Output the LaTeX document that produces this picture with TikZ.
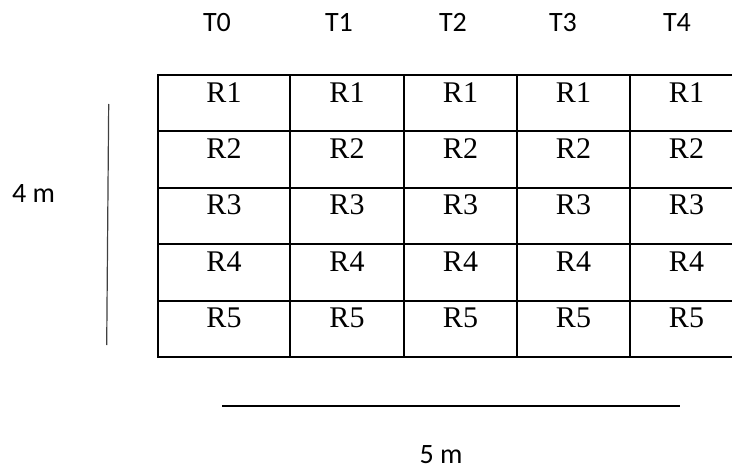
\documentclass[tikz,border=0pt]{standalone}
\usepackage{fontspec}
\setmainfont{Liberation Serif}
\newfontfamily\calib{Carlito}
\begin{document}
\begin{tikzpicture}[x=1pt,y=-1pt,
  cellbox/.style={draw=black, line width=2pt, line cap=rect, anchor=north west, inner sep=0pt, minimum height=56.4pt},
  celltext/.style={font=\fontsize{30}{34}\selectfont, anchor=base, inner sep=0pt},
  lab/.style={font=\calib\fontsize{28}{32}\selectfont, anchor=base, inner sep=0pt},
  scaleline/.style={line width=1.2pt}]
\clip (0,0) rectangle (732,471);
\fill[white] (0,0) rectangle (732,471);
% column lefts and widths
\foreach \c/\x/\w in {0/157/132,1/289/114,2/403/113,3/516/113,4/629/113}{
  \foreach \r in {1,...,5}{
    \node[cellbox, minimum width=\w pt] (c-\r-\c) at (\x,{74+(\r-1)*56.4}) {};
    \node[celltext] (t-\r-\c) at ([yshift=-28pt]c-\r-\c.north) {R\r};
  }
}
% column headings
\node[lab] (h0) at (217,31) {T0};
\node[lab] (h1) at (339,31) {T1};
\node[lab] (h2) at (453,31) {T2};
\node[lab] (h3) at (563,31) {T3};
\node[lab] (h4) at (677,31) {T4};
% scale lines
\coordinate (v1) at (108.7,104);
\coordinate (v2) at (106.7,345);
\draw[scaleline, black!75] (v1) -- (v2);
\node[lab] (four) at (33.5,202) {4 m};
\coordinate (h1a) at (222,406);
\coordinate (h1b) at (680,406);
\draw[scaleline] (h1a) -- (h1b);
\node[lab] (five) at (441,463) {5 m};
\end{tikzpicture}
\end{document}
